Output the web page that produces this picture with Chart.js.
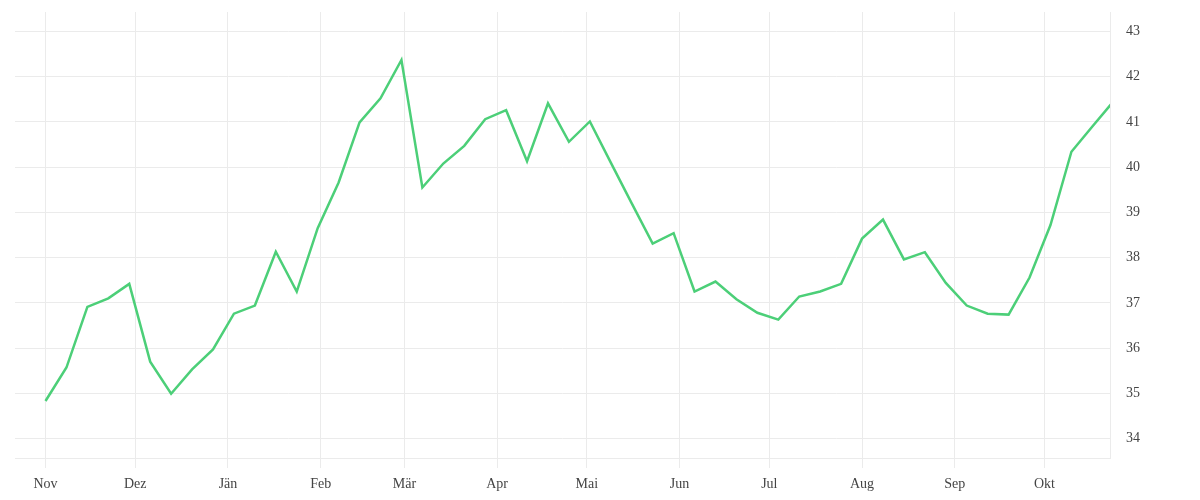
<!DOCTYPE html>
<html>
<head>
<meta charset="utf-8">
<script src="https://cdn.jsdelivr.net/npm/chart.js@4/dist/chart.umd.min.js"></script>
<style>
  html, body { margin: 0; padding: 0; background: #ffffff; }
  #wrap { width: 1200px; height: 500px; position: relative; }
</style>
</head>
<body>
<div id="wrap"><canvas id="lineChart"></canvas></div>
<script>
// weekly readings, Nov 2018 - Oct 2019
const weekDates = [
  '2018-11-01', '2018-11-08', '2018-11-15', '2018-11-22', '2018-11-29',
  '2018-12-06', '2018-12-13', '2018-12-20', '2018-12-27',
  '2019-01-03', '2019-01-10', '2019-01-17', '2019-01-24', '2019-01-31',
  '2019-02-07', '2019-02-14', '2019-02-21', '2019-02-28',
  '2019-03-07', '2019-03-14', '2019-03-21', '2019-03-28',
  '2019-04-04', '2019-04-11', '2019-04-18', '2019-04-25',
  '2019-05-02', '2019-05-09', '2019-05-16', '2019-05-23', '2019-05-30',
  '2019-06-06', '2019-06-13', '2019-06-20', '2019-06-27',
  '2019-07-04', '2019-07-11', '2019-07-18', '2019-07-25',
  '2019-08-01', '2019-08-08', '2019-08-15', '2019-08-22', '2019-08-29',
  '2019-09-05', '2019-09-12', '2019-09-19', '2019-09-26',
  '2019-10-03', '2019-10-10', '2019-10-17', '2019-10-24'
];
const weekValues = [
  34.83, 35.57, 36.91, 37.10, 37.42,
  35.70, 34.99, 35.53, 35.97,
  36.76, 36.94, 38.13, 37.25, 38.65,
  39.66, 40.99, 41.52, 42.37,
  39.55, 40.08, 40.47, 41.06,
  41.26, 40.13, 41.41, 40.56,
  41.01, 40.10, 39.20, 38.31, 38.54,
  37.25, 37.47, 37.08, 36.78,
  36.63, 37.14, 37.25, 37.42,
  38.42, 38.84, 37.96, 38.12, 37.44,
  36.94, 36.76, 36.74, 37.56,
  38.72, 40.34, 40.90, 41.45
];
// month ticks (Austrian German month names)
const monthStarts = [
  '2018-11-01', '2018-12-01', '2019-01-01', '2019-02-01', '2019-03-01', '2019-04-01',
  '2019-05-01', '2019-06-01', '2019-07-01', '2019-08-01', '2019-09-01', '2019-10-01'
];
const monthLabels = ['Nov', 'Dez', 'Jän', 'Feb', 'Mär', 'Apr', 'Mai', 'Jun', 'Jul', 'Aug', 'Sep', 'Okt'];
const yTicks = [34, 35, 36, 37, 38, 39, 40, 41, 42, 43];

// days since first reading, used as x position
const DAY = 24 * 3600 * 1000;
const origin = Date.parse(weekDates[0]);
const dayOf = d => Math.round((Date.parse(d) - origin) / DAY);

const points = weekDates.map((d, i) => ({ x: dayOf(d), y: weekValues[i] }));
const monthDays = monthStarts.map(dayOf);

const gridColor = '#ebebeb';
const labelFont = { family: '"Liberation Serif", "DejaVu Serif", serif', size: 14 };

// no extra room for half labels at the ends of the axes
function noEdgePadding(scale) {
  scale.paddingTop = 0;
  scale.paddingBottom = 0;
  scale.paddingLeft = 0;
  scale.paddingRight = 0;
}

const ctx = document.getElementById('lineChart').getContext('2d');
new Chart(ctx, {
  type: 'line',
  data: {
    datasets: [{
      data: points,
      borderColor: '#4ccf78',
      borderWidth: 2.5,
      pointRadius: 0,
      pointHoverRadius: 0,
      tension: 0,
      fill: false,
      clip: 0
    }]
  },
  options: {
    responsive: true,
    maintainAspectRatio: false,
    animation: false,
    layout: { padding: { top: 12, left: 15, right: 0, bottom: 0 } },
    plugins: {
      legend: { display: false },
      tooltip: { enabled: false }
    },
    scales: {
      x: {
        type: 'linear',
        min: -10.2,
        max: 355.9,
        grid: { color: gridColor, lineWidth: 1, drawTicks: true, tickLength: 10, tickColor: gridColor },
        border: { display: true, color: gridColor },
        afterBuildTicks: function(scale) {
          scale.ticks = monthDays.map(v => ({ value: v }));
        },
        afterFit: function(scale) {
          scale.height = 42;
          noEdgePadding(scale);
        },
        ticks: {
          autoSkip: false,
          maxRotation: 0,
          padding: 8,
          color: '#444',
          font: labelFont,
          callback: function(value) {
            const i = monthDays.indexOf(value);
            return i >= 0 ? monthLabels[i] : '';
          }
        }
      },
      y: {
        position: 'right',
        min: 33.57,
        max: 43.43,
        grid: { color: gridColor, lineWidth: 1, drawTicks: false },
        border: { display: true, color: gridColor },
        afterBuildTicks: function(scale) {
          scale.ticks = yTicks.map(v => ({ value: v }));
        },
        afterFit: function(scale) {
          scale.width = 90;
          noEdgePadding(scale);
        },
        ticks: {
          padding: 16,
          crossAlign: 'near',
          color: '#444',
          font: labelFont
        }
      }
    }
  }
});
</script>
</body>
</html>
